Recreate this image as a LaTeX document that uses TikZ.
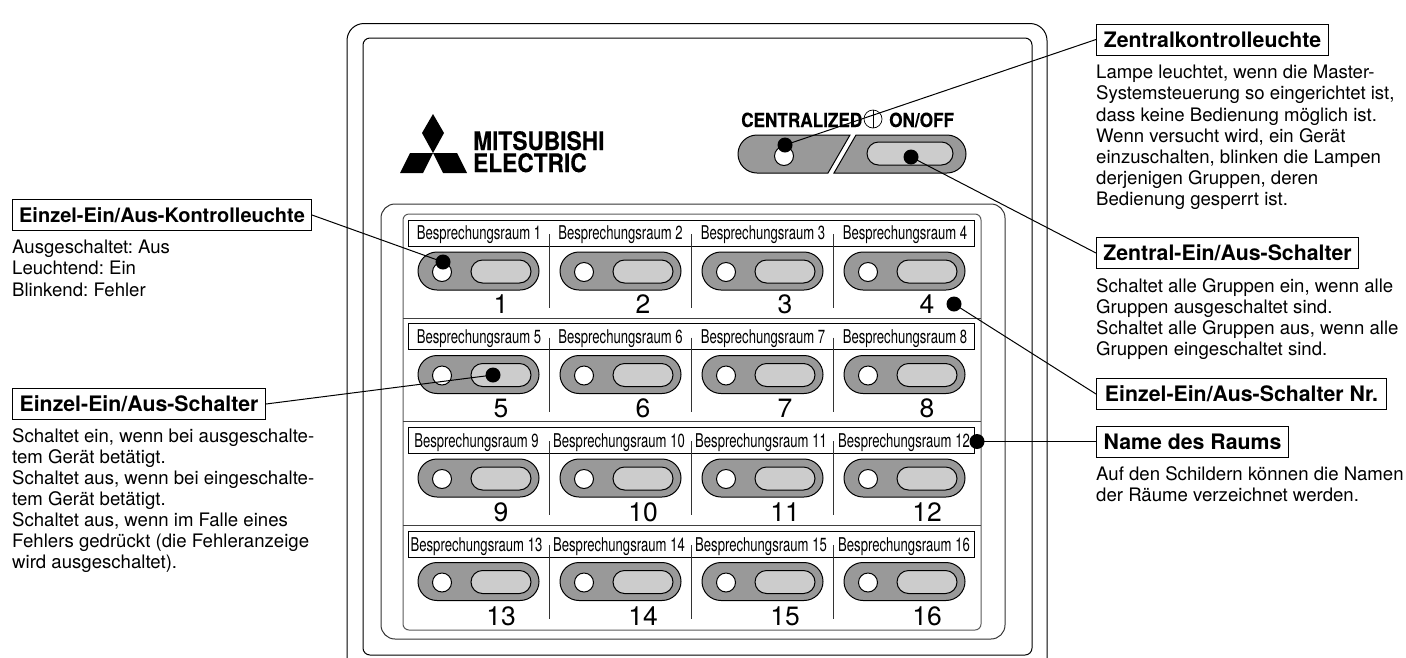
\documentclass[tikz,border=0pt]{standalone}
\usepackage{fontspec}
\setmainfont{TeX Gyre Heros}
\newfontfamily\narrowfont[FakeStretch=0.69]{TeX Gyre Heros}
\newfontfamily\logofont[FakeStretch=0.89,BoldFeatures={FakeBold=0.3}]{TeX Gyre Heros}
\newfontfamily\capsfont[FakeStretch=0.88,BoldFeatures={FakeBold=0.2}]{TeX Gyre Heros}
\tikzset{
  pxline/.style={line width=1pt},
  titlebox/.style={draw, pxline, fill=white, anchor=west, inner sep=0pt, minimum height=31pt,
    font=\fontsize{21.3}{24}\selectfont\bfseries},
  bodytext/.style={anchor=north west, align=left, inner sep=0pt, font=\fontsize{18.6}{21.2}\selectfont},
  roomtext/.style={anchor=base, inner sep=0pt, font=\fontsize{19}{20}\narrowfont},
  numtext/.style={anchor=base, inner sep=0pt, font=\fontsize{26.5}{26}\selectfont},
  logotext/.style={anchor=base west, inner sep=0pt, font=\fontsize{25.5}{26}\logofont\bfseries},
  captext/.style={anchor=base west, inner sep=0pt, font=\fontsize{19.5}{20}\capsfont\bfseries},
  pill/.style={draw, pxline, fill=black!40, rounded corners=19pt},
  keypill/.style={draw, pxline, fill=black!20, rounded corners=11.5pt},
  lamp/.style={draw, pxline, fill=white}
}
\frenchspacing
\begin{document}
\begin{tikzpicture}[x=1pt, y=-1pt]
    \useasboundingbox (0,0) rectangle (1406,657);

    % Panel frames
    \draw[pxline, rounded corners=17pt] (347,680) -- (347,23.5) -- (1047,23.5) -- (1047,680);
    \draw[pxline, rounded corners=7pt] (363,38) rectangle (1032,655);
    \draw[pxline, black!80, rounded corners=14pt] (381,204) rectangle (1005,639);
    \draw[pxline, black!65, rounded corners=6pt] (403,214) rectangle (981,630);

    % Logo
    \fill (433,114) -- (444,133) -- (433,153) -- (422,133) -- cycle;
    \fill (400,173) -- (410,153) -- (433,153) -- (423,173) -- cycle;
    \fill (433,153) -- (457,153) -- (467,173) -- (443,173) -- cycle;
    \node[logotext] (logoA) at (473,150) {MITSUBISHI};
    \node[logotext] (logoB) at (473,172) {ELECTRIC};

    % Central switches
    \node[captext] (capA) at (741,127) {CENTRALIZED};
    \node[captext] (capB) at (889,127) {ON/OFF};
    \draw[line width=0.7pt] (873,119) circle (9);
    \draw[line width=0.7pt] (873,110) -- (873,128);
    \draw[pxline, fill=black!40] (850,135) -- (757,135) arc (-90:-270:19) -- (828,173) -- cycle;
    \draw[pxline, fill=black!40] (856,135) -- (947,135) arc (-90:90:19) -- (834,173) -- cycle;
    \draw[keypill] (867,142) rectangle (953,165);
    \draw[lamp] (784,156) circle (9.5);

    % Rows of switches
    \foreach \r in {0,1,2,3} {
        \draw[pxline, fill=white] (408,220+103.7*\r) rectangle (974,246+103.7*\r);
        \ifnum\r<3 \draw[black!75, pxline] (403,318+103.5*\r) -- (981,318+103.5*\r); \fi
        \foreach \c in {1,2,3} \draw[pxline, black!80] (407+142*\c,234+103.7*\r) -- (407+142*\c,308+103.7*\r);
        \foreach \c in {0,1,2,3} {
            \draw[pill] (418+142*\c,252+103.5*\r) rectangle (539+142*\c,290+103.5*\r);
            \draw[lamp] (442+142*\c,272+103.5*\r) circle (9.5);
            \draw[keypill] (471+142*\c,260+103.5*\r) rectangle (531+142*\c,283+103.5*\r);
            \pgfmathtruncatemacro{\n}{4*\r+\c+1}
            \node[numtext] (no\n) at (501+142*\c,313+104.3*\r) {\n};
        }
    }

    % Room labels
    \foreach \n/\x/\y in {1/479/239, 2/620.5/239, 3/763/239, 4/905/239,
        5/479/343, 6/620.5/343, 7/763/343, 8/905/343,
        9/476.5/447, 10/619/447, 11/761/447, 12/904/447,
        13/476.5/551, 14/619/551, 15/761/551, 16/904/551}
        \node[roomtext] (room\n) at (\x,\y) {Besprechungsraum \n};

    % Titles
    \node[titlebox, minimum width=299pt, font=\fontsize{20}{24}\selectfont\bfseries] (boxLamp) at (12,215) {Einzel-Ein/Aus-Kontrolleuchte};
    \node[titlebox, minimum width=253pt] (boxKey) at (12,404) {Einzel-Ein/Aus-Schalter};
    \node[titlebox, minimum width=232pt] (boxCentral) at (1096,39.5) {Zentralkontrolleuchte};
    \node[titlebox, minimum width=262pt] (boxAll) at (1096,253) {Zentral-Ein/Aus-Schalter};
    \node[titlebox, minimum width=290pt] (boxNo) at (1096,394) {Einzel-Ein/Aus-Schalter Nr.};
    \node[titlebox, minimum width=192pt] (boxName) at (1096,441.5) {Name des Raums};

    % Descriptions
    \node[bodytext] (txtLamp) at (12,240) {Ausgeschaltet: Aus\\Leuchtend: Ein\\Blinkend: Fehler};
    \node[bodytext, font=\fontsize{18.6}{21}\selectfont] (txtKey) at (12,428) {Schaltet ein, wenn bei ausgeschalte-\\tem Gerät betätigt.\\Schaltet aus, wenn bei eingeschalte-\\tem Gerät betätigt.\\Schaltet aus, wenn im Falle eines\\Fehlers gedrückt (die Fehleranzeige\\wird ausgeschaltet).};
    \node[bodytext] (txtCentral) at (1096,65) {Lampe leuchtet, wenn die Master-\\Systemsteuerung so eingerichtet ist,\\dass keine Bedienung möglich ist.\\Wenn versucht wird, ein Gerät\\einzuschalten, blinken die Lampen\\derjenigen Gruppen, deren\\Bedienung gesperrt ist.};
    \node[bodytext] (txtAll) at (1096,278) {Schaltet alle Gruppen ein, wenn alle\\Gruppen ausgeschaltet sind.\\Schaltet alle Gruppen aus, wenn alle\\Gruppen eingeschaltet sind.};
    \node[bodytext] (txtName) at (1096,466) {Auf den Schildern können die Namen\\der Räume verzeichnet werden.};

    % Leader ends
    \coordinate (dotLamp) at (443,262);
    \coordinate (dotKey) at (493,375);
    \coordinate (dotCentral) at (785,145);
    \coordinate (dotAll) at (911,157);
    \coordinate (dotNo) at (954,304);
    \coordinate (dotName) at (977,441.5);
    \foreach \i in {Lamp,Key,Central,All,No,Name} {
        \fill (dot\i) circle (7.5);
    }
    \draw[pxline] (boxLamp.east) -- (dotLamp);
    \draw[pxline] (boxKey.east) -- (dotKey);
    \draw[pxline] (boxCentral.west) -- (dotCentral);
    \draw[pxline] (boxAll.west) -- (dotAll);
    \draw[pxline] (boxNo.west) -- (dotNo);
    \draw[pxline] (boxName.west) -- (dotName);
\end{tikzpicture}
\end{document}
